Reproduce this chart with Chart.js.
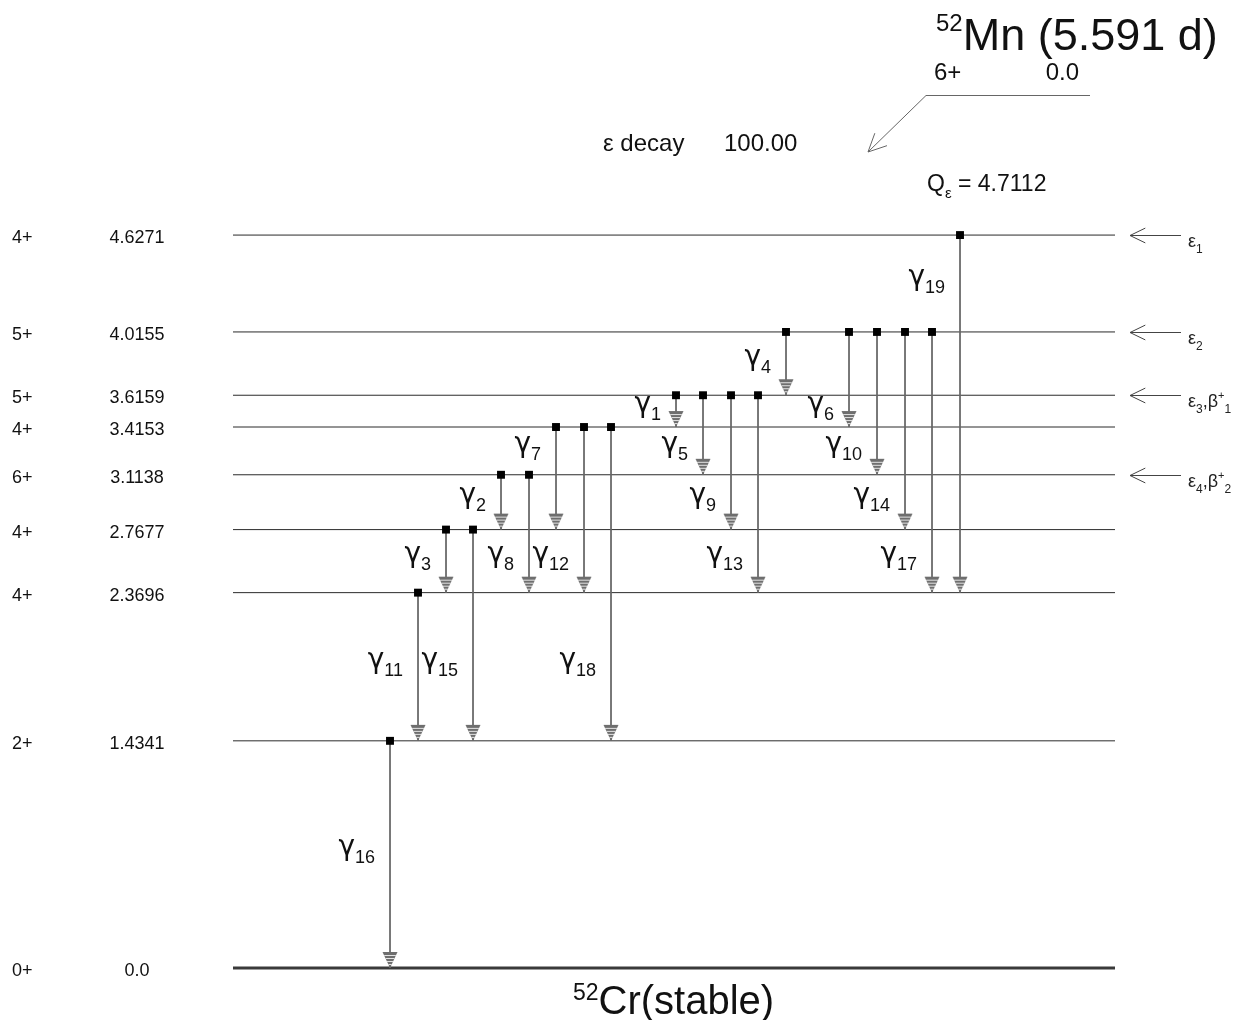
<!DOCTYPE html>
<html>
<head>
<meta charset="utf-8">
<script src="https://cdn.jsdelivr.net/npm/chart.js@4.4.1/dist/chart.umd.min.js"></script>
<style>
  html, body { margin: 0; padding: 0; background: #ffffff; }
  #wrap { width: 1243px; height: 1020px; }
</style>
</head>
<body>
<div id="wrap"><canvas id="c" width="1243" height="1020"></canvas></div>
<script>
// ---------------- DATA ----------------
const levelEnergy = [0.0, 1.4341, 2.3696, 2.7677, 3.1138, 3.4153, 3.6159, 4.0155, 4.6271];
const levelSpin   = ['0+', '2+', '4+', '4+', '6+', '4+', '5+', '5+', '4+'];
const levelText   = ['0.0', '1.4341', '2.3696', '2.7677', '3.1138', '3.4153', '3.6159', '4.0155', '4.6271'];

const gammaIndex = ['1','2','3','4','5','6','7','8','9','10','11','12','13','14','15','16','17','18','19'];
const gammaFrom  = [3.6159, 3.1138, 2.7677, 4.0155, 3.6159, 4.0155, 3.4153, 3.1138, 3.6159, 4.0155,
                    2.3696, 3.4153, 3.6159, 4.0155, 2.7677, 1.4341, 4.0155, 3.4153, 4.6271];
const gammaTo    = [3.4153, 2.7677, 2.3696, 3.6159, 3.1138, 3.4153, 2.7677, 2.3696, 2.7677, 3.1138,
                    1.4341, 2.3696, 2.3696, 2.7677, 1.4341, 0.0,    2.3696, 1.4341, 2.3696];
// horizontal column of each transition (x-axis units)
const gammaCol   = [676, 501, 446, 786, 703, 849, 556, 529, 731, 877,
                    418, 584, 758, 905, 473, 390, 932, 611, 960];

const feedLevel  = [4.6271, 4.0155, 3.6159, 3.1138];
const feedEps    = ['1', '2', '3', '4'];
const feedBeta   = [null, null, '1', '2'];

const parentMass = '52', parentName = 'Mn (5.591 d)', parentSpin = '6+', parentEnergy = '0.0';
const decayMode = 'ε decay', decayBranch = '100.00', qValue = '4.7112';
const daughterMass = '52', daughterName = 'Cr(stable)';

// ---------------- LAYOUT ----------------
const X_MIN = 0, X_MAX = 1243;
const Y_MIN = -0.3283, Y_MAX = 6.1111;
const LEVEL_X0 = 233, LEVEL_X1 = 1115;
const labelOnTopSegment = ['7', '19'];
const FONT = '"Liberation Sans", Arial, sans-serif';
const GREEK = '"DejaVu Sans", "Liberation Sans", sans-serif';

// hatched arrow head as point image (tip at image centre)
function makeArrowHead() {
  const c = document.createElement('canvas');
  c.width = 16; c.height = 34;
  const g = c.getContext('2d');
  g.beginPath();
  g.moveTo(0.5, 1); g.lineTo(15.5, 1); g.lineTo(8, 17); g.closePath();
  g.fillStyle = '#6e6e6e'; g.fill();
  g.save(); g.clip();
  g.fillStyle = '#e4e4e4';
  for (let y = 4; y < 16; y += 3) g.fillRect(0, y, 16, 1);
  g.restore();
  return c;
}
const arrowHead = makeArrowHead();

const sortedLevels = levelEnergy.slice().sort((a, b) => a - b);
function nextAbove(e) { return sortedLevels.find(v => v > e + 1e-6); }
function nextBelow(e) { let r = null; sortedLevels.forEach(v => { if (v < e - 1e-6) r = v; }); return r; }

const datasets = [];
levelEnergy.forEach((e, i) => {
  datasets.push({
    label: 'level ' + levelText[i],
    data: [{ x: LEVEL_X0, y: e }, { x: LEVEL_X1, y: e }],
    showLine: true,
    borderColor: e === 0 ? '#3a3a3a' : '#2a2a2a',
    borderWidth: e === 0 ? 3 : 1,
    pointRadius: 0,
    order: 10
  });
});
gammaIndex.forEach((g, i) => {
  datasets.push({
    label: 'γ' + g,
    data: [{ x: gammaCol[i], y: gammaFrom[i] }, { x: gammaCol[i], y: gammaTo[i] }],
    showLine: true,
    borderColor: '#666666',
    borderWidth: 1,
    pointStyle: ['rect', arrowHead],
    pointRadius: [5.6, 9],
    pointBackgroundColor: '#000000',
    pointBorderWidth: 0,
    order: 1
  });
});

function drawSubText(ctx, parts, x, y, align) {
  let total = 0;
  parts.forEach(p => { ctx.font = p.size + 'px ' + (p.f || FONT); p.w = ctx.measureText(p.t).width; total += p.w; });
  let cx = align === 'right' ? x - total : (align === 'center' ? x - total / 2 : x);
  ctx.textAlign = 'left';
  ctx.textBaseline = 'alphabetic';
  parts.forEach(p => { ctx.font = p.size + 'px ' + (p.f || FONT); ctx.fillText(p.t, cx, y + (p.dy || 0)); cx += p.w; });
}

function openArrow(ctx, x0, y0, x1, y1, len) {
  ctx.beginPath(); ctx.moveTo(x0, y0); ctx.lineTo(x1, y1); ctx.stroke();
  const ang = Math.atan2(y0 - y1, x0 - x1);
  const a = 0.45;
  ctx.beginPath();
  ctx.moveTo(x1 + len * Math.cos(ang + a), y1 + len * Math.sin(ang + a));
  ctx.lineTo(x1, y1);
  ctx.lineTo(x1 + len * Math.cos(ang - a), y1 + len * Math.sin(ang - a));
  ctx.stroke();
}

const textPlugin = {
  id: 'schemeText',
  afterDraw(chart) {
    const ctx = chart.ctx;
    const xs = chart.scales.x, ys = chart.scales.y;
    ctx.save();
    ctx.fillStyle = '#111111';
    // level labels
    levelEnergy.forEach((e, i) => {
      const py = ys.getPixelForValue(e);
      ctx.font = '18px ' + FONT;
      ctx.textBaseline = 'middle';
      ctx.textAlign = 'left';
      ctx.fillText(levelSpin[i], 12, py + 3);
      ctx.textAlign = 'center';
      ctx.fillText(levelText[i], 137, py + 3);
    });
    // gamma labels
    gammaIndex.forEach((g, i) => {
      let a, b;
      if (labelOnTopSegment.includes(g)) { a = gammaFrom[i]; b = nextBelow(gammaFrom[i]); }
      else { a = gammaTo[i]; b = nextAbove(gammaTo[i]); }
      const yc = (ys.getPixelForValue(a) + ys.getPixelForValue(b)) / 2 - 2;
      const xr = xs.getPixelForValue(gammaCol[i]) - 15;
      drawSubText(ctx, [{ t: 'γ', size: 28, dy: 3, f: GREEK }, { t: g, size: 18, dy: 11 }], xr, yc, 'right');
    });
    // feeding arrows on the right
    ctx.strokeStyle = '#444444';
    ctx.lineWidth = 1;
    feedLevel.forEach((e, i) => {
      const py = Math.round(ys.getPixelForValue(e)) + 0.5;
      openArrow(ctx, 1181, py, 1130, py, 17);
      const parts = [{ t: 'ε', size: 18, dy: 11 }, { t: feedEps[i], size: 12, dy: 17 }];
      if (feedBeta[i]) {
        parts.push({ t: ',', size: 18, dy: 11 });
        parts.push({ t: 'β', size: 18, dy: 11 });
        parts.push({ t: '+', size: 11, dy: 3 });
        parts.push({ t: feedBeta[i], size: 12, dy: 17 });
      }
      ctx.fillStyle = '#222222';
      drawSubText(ctx, parts, 1188, py, 'left');
    });
    // parent
    ctx.fillStyle = '#111111';
    drawSubText(ctx, [{ t: parentMass, size: 24, dy: 31 }, { t: parentName, size: 45, dy: 50 }], 936, 0, 'left');
    ctx.font = '24px ' + FONT;
    ctx.textBaseline = 'alphabetic';
    ctx.textAlign = 'left';
    ctx.fillText(parentSpin, 934, 80);
    ctx.textAlign = 'right';
    ctx.fillText(parentEnergy, 1079, 80);
    ctx.strokeStyle = '#666666';
    ctx.beginPath(); ctx.moveTo(926, 95.5); ctx.lineTo(1090, 95.5); ctx.stroke();
    openArrow(ctx, 926, 95.5, 868, 152, 20);
    // decay mode
    ctx.font = '24px ' + FONT;
    ctx.textAlign = 'left';
    ctx.fillText(decayMode, 603, 151);
    ctx.fillText(decayBranch, 724, 151);
    // Q value
    drawSubText(ctx, [{ t: 'Q', size: 23, dy: 191 }, { t: 'ε', size: 15, dy: 198 }, { t: ' = ' + qValue, size: 23, dy: 191 }], 927, 0, 'left');
    // daughter
    drawSubText(ctx, [{ t: daughterMass, size: 23, dy: 1000 }, { t: daughterName, size: 40, dy: 1014 }], 573, 0, 'left');
    ctx.restore();
  }
};

new Chart(document.getElementById('c'), {
  type: 'scatter',
  data: { datasets },
  options: {
    responsive: false,
    animation: false,
    events: [],
    layout: { padding: 0, autoPadding: false },
    plugins: { legend: { display: false }, tooltip: { enabled: false }, title: { display: false } },
    scales: {
      x: { type: 'linear', min: X_MIN, max: X_MAX, display: false },
      y: { type: 'linear', min: Y_MIN, max: Y_MAX, display: false }
    },
    clip: false
  },
  plugins: [textPlugin]
});
</script>
</body>
</html>
